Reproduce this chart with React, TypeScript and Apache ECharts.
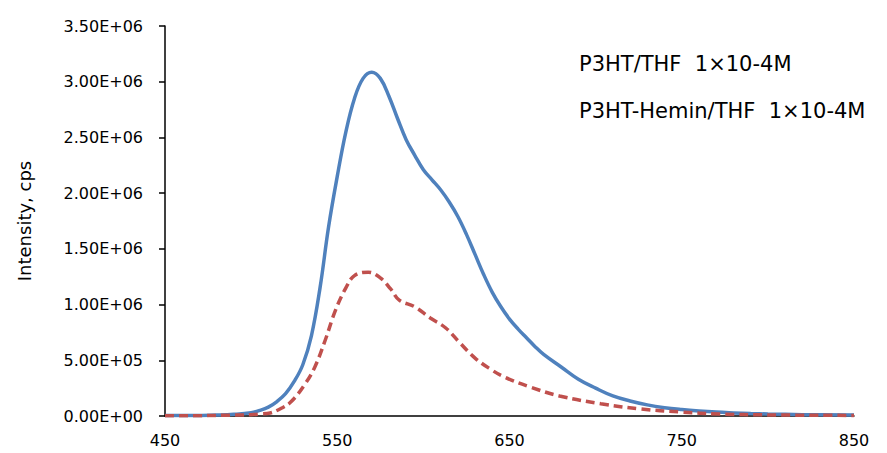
import React, { useEffect, useRef } from "react";
import * as echarts from "echarts";

const seriesNames = ["P3HT/THF  1×10-4M", "P3HT-Hemin/THF  1×10-4M"];

const blueX = [450, 460, 470, 480, 490, 500, 505, 510, 515, 520, 525, 530, 535, 540, 545, 550, 555, 560, 565, 570, 575, 580, 585, 590, 595, 600, 605, 610, 615, 620, 625, 630, 635, 640, 645, 650, 655, 660, 665, 670, 680, 690, 700, 710, 720, 730, 740, 750, 760, 770, 780, 790, 800, 820, 850];
const blueY = [5000, 4000, 5000, 8000, 15000, 30000, 50000, 80000, 130000, 200000, 310000, 460000, 720000, 1150000, 1700000, 2150000, 2550000, 2850000, 3030000, 3085000, 3030000, 2870000, 2670000, 2480000, 2340000, 2210000, 2120000, 2030000, 1920000, 1790000, 1630000, 1450000, 1270000, 1110000, 980000, 870000, 780000, 700000, 620000, 550000, 440000, 330000, 250000, 180000, 135000, 100000, 75000, 58000, 45000, 35000, 28000, 22000, 18000, 12000, 8000];

const redX = [450, 460, 470, 480, 490, 500, 505, 511, 517, 523, 531, 537, 543, 549, 555, 560, 568, 575, 581, 586, 595, 604, 613, 621, 630, 639, 647, 662, 679, 703, 726, 749, 772, 800, 850];
const redY = [3000, 2000, 3000, 5000, 8000, 12000, 18000, 27000, 65000, 125000, 280000, 440000, 680000, 950000, 1150000, 1260000, 1290000, 1240000, 1140000, 1040000, 980000, 880000, 790000, 660000, 520000, 420000, 350000, 260000, 180000, 110000, 63000, 36000, 18000, 10000, 5000];

const yTicks = ["0.00E+00", "5.00E+05", "1.00E+06", "1.50E+06", "2.00E+06", "2.50E+06", "3.00E+06", "3.50E+06"];

export default function App() {
  const ref = useRef<HTMLDivElement>(null);
  useEffect(() => {
    if (!ref.current) return;
    const chart = echarts.init(ref.current, null, { renderer: "svg" });
    const font = "'DejaVu Sans', sans-serif";
    chart.setOption({
      animation: false,
      backgroundColor: "#ffffff",
      grid: { left: 165, right: 33, top: 26, bottom: 37 },
      legend: {
        orient: "vertical",
        left: 569,
        top: 48,
        icon: "none",
        itemGap: 26,
        itemWidth: 0,
        textStyle: { fontFamily: font, fontSize: 21, color: "#000" },
        data: seriesNames,
      },
      xAxis: {
        type: "value",
        min: 450,
        max: 850,
        interval: 100,
        axisLine: { show: true, lineStyle: { color: "#000", width: 1.5 } },
        axisTick: { show: false },
        splitLine: { show: false },
        axisLabel: { fontFamily: font, fontSize: 16, color: "#000", margin: 16 },
      },
      yAxis: {
        type: "value",
        min: 0,
        max: 3500000,
        interval: 500000,
        name: "Intensity, cps",
        nameLocation: "middle",
        nameGap: 132,
        nameTextStyle: { fontFamily: font, fontSize: 18, color: "#000" },
        axisLine: { show: true, lineStyle: { color: "#000", width: 1.5 } },
        axisTick: { show: true, length: 6, inside: false, lineStyle: { color: "#000", width: 1.5 } },
        splitLine: { show: false },
        axisLabel: {
          fontFamily: font,
          fontSize: 16,
          color: "#000",
          margin: 22,
          formatter: (v: number) => yTicks[Math.round(v / 500000)] ?? "",
        },
      },
      series: [
        {
          name: seriesNames[0],
          type: "line",
          smooth: 0.4,
          showSymbol: false,
          data: blueX.map((x, i) => [x, blueY[i]]),
          lineStyle: { color: "#4F81BD", width: 3.5 },
          itemStyle: { color: "#4F81BD" },
          z: 2,
        },
        {
          name: seriesNames[1],
          type: "line",
          smooth: 0.4,
          showSymbol: false,
          data: redX.map((x, i) => [x, redY[i]]),
          lineStyle: { color: "#C0504D", width: 3.5, type: [9, 5] },
          itemStyle: { color: "#C0504D" },
          z: 3,
        },
      ],
    });
    return () => chart.dispose();
  }, []);
  return <div ref={ref} style={{ width: 887, height: 453, position: "absolute", left: 0, top: 0 }} />;
}
